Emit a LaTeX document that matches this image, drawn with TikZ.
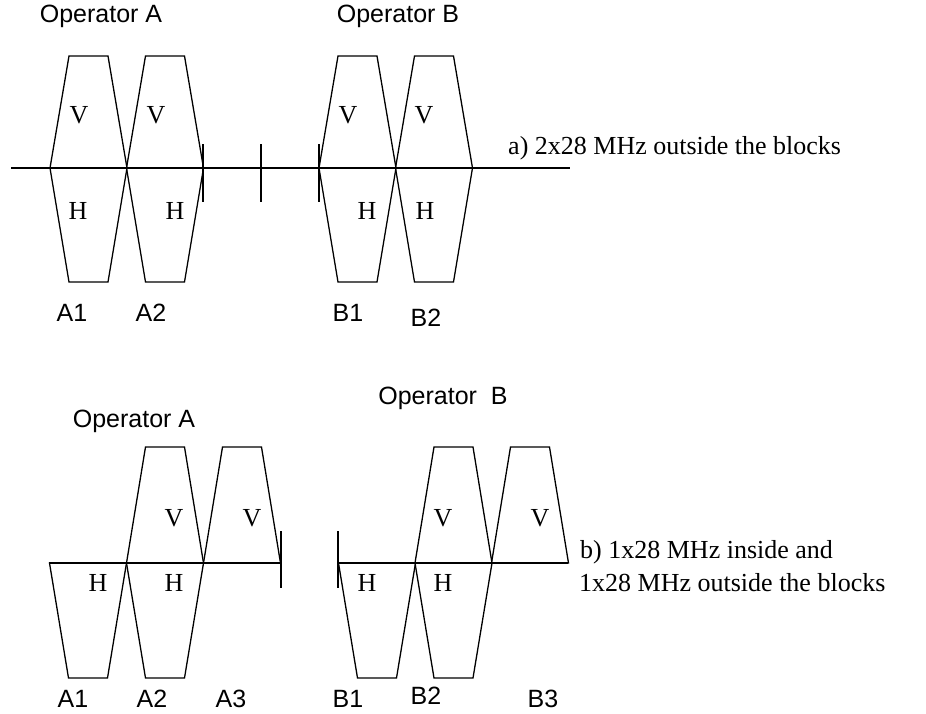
\documentclass[tikz,border=0pt]{standalone}
\usepackage{fontspec}
\setmainfont{Liberation Serif}
\newfontfamily\arialfont{Liberation Sans}
\tikzset{
  band/.style={line width=1.3pt, line join=miter},
  thickband/.style={line width=2.6pt},
  tickmark/.style={line width=1.7pt},
  serlab/.style={font=\fontsize{26}{30}\selectfont, inner sep=0pt},
  sanslab/.style={font=\arialfont\fontsize{25}{29}\selectfont, inner sep=0pt},
  hexa/.pic={\draw[band] (-38.5,0) -- (-19.5,-112) -- (19.5,-112) -- (38.5,0) -- (19.5,114) -- (-19.5,114) -- cycle;},
  vtrap/.pic={\draw[band] (-38.5,0) -- (-19.5,-116) -- (19.5,-116) -- (38.5,0) -- cycle;},
  htrap/.pic={\draw[band] (-38.5,0) -- (-19.5,115) -- (19.5,115) -- (38.5,0) -- cycle;}
}
\begin{document}
\begin{tikzpicture}[x=1pt,y=-1pt]
\useasboundingbox (0,0) rectangle (926,713);
% ---------- a) ----------
\coordinate (la) at (11,168);
\coordinate (ra) at (570,168);
\draw[band] (la) -- (ra);
\draw[thickband] (50,168) -- (203,168);
\draw[thickband] (319,168) -- (472,168);
\pic at (88.5,168) {hexa};
\pic at (165,168) {hexa};
\pic at (357.5,168) {hexa};
\pic at (434,168) {hexa};
\draw[tickmark] (203,144) -- (203,202);
\draw[band] (261,144) -- (261,202);
\draw[tickmark] (319,144) -- (319,202);
\node[serlab] (va1) at (79,115) {V};
\node[serlab] (va2) at (156,115) {V};
\node[serlab] (vb1) at (348,115) {V};
\node[serlab] (vb2) at (424,115) {V};
\node[serlab] (ha1) at (78,211) {H};
\node[serlab] (ha2) at (175,211) {H};
\node[serlab] (hb1) at (367,211) {H};
\node[serlab] (hb2) at (425,211) {H};
\node[sanslab] (opa) at (101,16) {Operator A};
\node[sanslab] (opb) at (398,16) {Operator B};
\node[serlab, anchor=west] (capa) at (508,148) {a) 2x28 MHz outside the blocks};
\node[sanslab] (a1) at (72,313) {A1};
\node[sanslab] (a2) at (151,313) {A2};
\node[sanslab] (b1) at (348,313) {B1};
\node[sanslab] (b2) at (426,318) {B2};
% ---------- b) ----------
\draw[band] (49,563) -- (281,563);
\draw[band] (338,563) -- (568,563);
\draw[thickband] (127,563) -- (203,563);
\draw[thickband] (415,563) -- (492,563);
\pic at (88,563) {htrap};
\pic at (165,563) {vtrap};
\pic at (165,563) {htrap};
\pic at (242,563) {vtrap};
\pic at (377,563) {htrap};
\pic at (453.5,563) {vtrap};
\pic at (453.5,563) {htrap};
\pic at (530,563) {vtrap};
\draw[tickmark] (281,531) -- (281,588);
\draw[tickmark] (338,531) -- (338,588);
\node[serlab] (vba2) at (174,518) {V};
\node[serlab] (vba3) at (252,518) {V};
\node[serlab] (vbb2) at (443,518) {V};
\node[serlab] (vbb3) at (540,518) {V};
\node[serlab] (hba1) at (98,583) {H};
\node[serlab] (hba2) at (174,583) {H};
\node[serlab] (hbb1) at (367,583) {H};
\node[serlab] (hbb2) at (443,583) {H};
\node[sanslab] (opa2) at (134,421) {Operator A};
\node[sanslab] (opb2) at (443,398) {Operator\ \ B};
\node[serlab, anchor=west] (capb1) at (580,552) {b) 1x28 MHz inside and};
\node[serlab, anchor=west] (capb2) at (579,583) {1x28 MHz outside the blocks};
\node[sanslab] (ba1) at (73,699) {A1};
\node[sanslab] (ba2) at (152,699) {A2};
\node[sanslab] (ba3) at (231,699) {A3};
\node[sanslab] (bb1) at (348,699) {B1};
\node[sanslab] (bb2) at (426,696) {B2};
\node[sanslab] (bb3) at (543,699) {B3};
\end{tikzpicture}
\end{document}
